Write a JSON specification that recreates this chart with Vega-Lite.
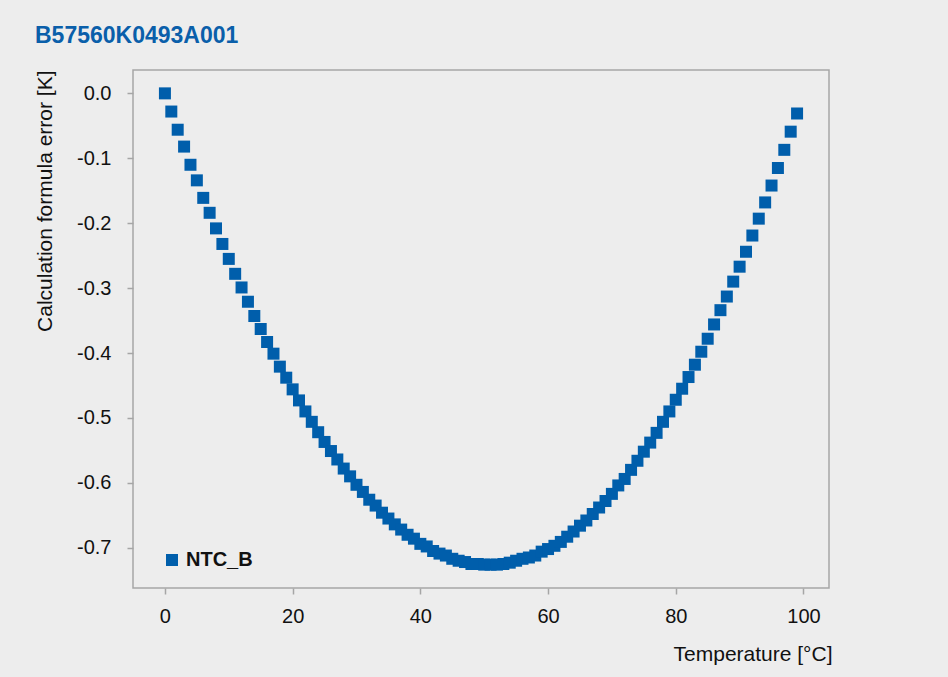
{
  "$schema": "https://vega.github.io/schema/vega-lite/v6.json",
  "autosize": {"type": "none"},
  "width": 696,
  "height": 518,
  "padding": {"left": 133, "top": 70, "right": 119, "bottom": 89},
  "background": "#ededed",
  "title": {
    "text": "B57560K0493A001",
    "anchor": "start",
    "frame": "group",
    "dx": -98,
    "dy": 24,
    "offset": 28,
    "baseline": "alphabetic",
    "font": "Liberation Sans",
    "fontSize": 23,
    "fontWeight": "bold",
    "color": "#0a5faa"
  },
  "config": {
    "view": {"stroke": "#a6a6a6", "strokeWidth": 1.5, "fill": "#ededed"},
    "font": "Liberation Sans"
  },
  "data": {
    "values": [
      {"T": 0, "err": 0.000, "series": "NTC_B"},
      {"T": 1, "err": -0.028, "series": "NTC_B"},
      {"T": 2, "err": -0.056, "series": "NTC_B"},
      {"T": 3, "err": -0.082, "series": "NTC_B"},
      {"T": 4, "err": -0.110, "series": "NTC_B"},
      {"T": 5, "err": -0.134, "series": "NTC_B"},
      {"T": 6, "err": -0.161, "series": "NTC_B"},
      {"T": 7, "err": -0.184, "series": "NTC_B"},
      {"T": 8, "err": -0.208, "series": "NTC_B"},
      {"T": 9, "err": -0.232, "series": "NTC_B"},
      {"T": 10, "err": -0.255, "series": "NTC_B"},
      {"T": 11, "err": -0.278, "series": "NTC_B"},
      {"T": 12, "err": -0.299, "series": "NTC_B"},
      {"T": 13, "err": -0.321, "series": "NTC_B"},
      {"T": 14, "err": -0.343, "series": "NTC_B"},
      {"T": 15, "err": -0.363, "series": "NTC_B"},
      {"T": 16, "err": -0.383, "series": "NTC_B"},
      {"T": 17, "err": -0.401, "series": "NTC_B"},
      {"T": 18, "err": -0.421, "series": "NTC_B"},
      {"T": 19, "err": -0.438, "series": "NTC_B"},
      {"T": 20, "err": -0.456, "series": "NTC_B"},
      {"T": 21, "err": -0.473, "series": "NTC_B"},
      {"T": 22, "err": -0.490, "series": "NTC_B"},
      {"T": 23, "err": -0.506, "series": "NTC_B"},
      {"T": 24, "err": -0.522, "series": "NTC_B"},
      {"T": 25, "err": -0.537, "series": "NTC_B"},
      {"T": 26, "err": -0.551, "series": "NTC_B"},
      {"T": 27, "err": -0.564, "series": "NTC_B"},
      {"T": 28, "err": -0.578, "series": "NTC_B"},
      {"T": 29, "err": -0.590, "series": "NTC_B"},
      {"T": 30, "err": -0.603, "series": "NTC_B"},
      {"T": 31, "err": -0.614, "series": "NTC_B"},
      {"T": 32, "err": -0.626, "series": "NTC_B"},
      {"T": 33, "err": -0.635, "series": "NTC_B"},
      {"T": 34, "err": -0.646, "series": "NTC_B"},
      {"T": 35, "err": -0.655, "series": "NTC_B"},
      {"T": 36, "err": -0.664, "series": "NTC_B"},
      {"T": 37, "err": -0.672, "series": "NTC_B"},
      {"T": 38, "err": -0.680, "series": "NTC_B"},
      {"T": 39, "err": -0.686, "series": "NTC_B"},
      {"T": 40, "err": -0.694, "series": "NTC_B"},
      {"T": 41, "err": -0.698, "series": "NTC_B"},
      {"T": 42, "err": -0.705, "series": "NTC_B"},
      {"T": 43, "err": -0.709, "series": "NTC_B"},
      {"T": 44, "err": -0.712, "series": "NTC_B"},
      {"T": 45, "err": -0.717, "series": "NTC_B"},
      {"T": 46, "err": -0.720, "series": "NTC_B"},
      {"T": 47, "err": -0.722, "series": "NTC_B"},
      {"T": 48, "err": -0.725, "series": "NTC_B"},
      {"T": 49, "err": -0.725, "series": "NTC_B"},
      {"T": 50, "err": -0.726, "series": "NTC_B"},
      {"T": 51, "err": -0.726, "series": "NTC_B"},
      {"T": 52, "err": -0.726, "series": "NTC_B"},
      {"T": 53, "err": -0.725, "series": "NTC_B"},
      {"T": 54, "err": -0.723, "series": "NTC_B"},
      {"T": 55, "err": -0.720, "series": "NTC_B"},
      {"T": 56, "err": -0.717, "series": "NTC_B"},
      {"T": 57, "err": -0.715, "series": "NTC_B"},
      {"T": 58, "err": -0.712, "series": "NTC_B"},
      {"T": 59, "err": -0.706, "series": "NTC_B"},
      {"T": 60, "err": -0.702, "series": "NTC_B"},
      {"T": 61, "err": -0.697, "series": "NTC_B"},
      {"T": 62, "err": -0.691, "series": "NTC_B"},
      {"T": 63, "err": -0.683, "series": "NTC_B"},
      {"T": 64, "err": -0.675, "series": "NTC_B"},
      {"T": 65, "err": -0.666, "series": "NTC_B"},
      {"T": 66, "err": -0.658, "series": "NTC_B"},
      {"T": 67, "err": -0.648, "series": "NTC_B"},
      {"T": 68, "err": -0.638, "series": "NTC_B"},
      {"T": 69, "err": -0.628, "series": "NTC_B"},
      {"T": 70, "err": -0.617, "series": "NTC_B"},
      {"T": 71, "err": -0.604, "series": "NTC_B"},
      {"T": 72, "err": -0.594, "series": "NTC_B"},
      {"T": 73, "err": -0.580, "series": "NTC_B"},
      {"T": 74, "err": -0.566, "series": "NTC_B"},
      {"T": 75, "err": -0.552, "series": "NTC_B"},
      {"T": 76, "err": -0.538, "series": "NTC_B"},
      {"T": 77, "err": -0.523, "series": "NTC_B"},
      {"T": 78, "err": -0.506, "series": "NTC_B"},
      {"T": 79, "err": -0.490, "series": "NTC_B"},
      {"T": 80, "err": -0.472, "series": "NTC_B"},
      {"T": 81, "err": -0.455, "series": "NTC_B"},
      {"T": 82, "err": -0.437, "series": "NTC_B"},
      {"T": 83, "err": -0.418, "series": "NTC_B"},
      {"T": 84, "err": -0.398, "series": "NTC_B"},
      {"T": 85, "err": -0.378, "series": "NTC_B"},
      {"T": 86, "err": -0.356, "series": "NTC_B"},
      {"T": 87, "err": -0.334, "series": "NTC_B"},
      {"T": 88, "err": -0.313, "series": "NTC_B"},
      {"T": 89, "err": -0.290, "series": "NTC_B"},
      {"T": 90, "err": -0.267, "series": "NTC_B"},
      {"T": 91, "err": -0.244, "series": "NTC_B"},
      {"T": 92, "err": -0.219, "series": "NTC_B"},
      {"T": 93, "err": -0.193, "series": "NTC_B"},
      {"T": 94, "err": -0.168, "series": "NTC_B"},
      {"T": 95, "err": -0.142, "series": "NTC_B"},
      {"T": 96, "err": -0.115, "series": "NTC_B"},
      {"T": 97, "err": -0.087, "series": "NTC_B"},
      {"T": 98, "err": -0.059, "series": "NTC_B"},
      {"T": 99, "err": -0.031, "series": "NTC_B"}
    ]
  },
  "mark": {"type": "point", "shape": "square", "filled": true, "size": 144, "opacity": 1},
  "encoding": {
    "x": {
      "field": "T",
      "type": "quantitative",
      "scale": {"domain": [-5, 104], "nice": false, "zero": false},
      "axis": {
        "values": [0, 20, 40, 60, 80, 100],
        "grid": false,
        "domain": false,
        "tickColor": "#a6a6a6",
        "tickWidth": 1.5,
        "tickSize": 6,
        "labelFontSize": 20,
        "labelColor": "#111111",
        "labelPadding": 12,
        "title": "Temperature [°C]",
        "titleFontSize": 21,
        "titleFontWeight": "normal",
        "titleColor": "#111111",
        "titleAlign": "right",
        "titleAnchor": "end",
        "titleBaseline": "alphabetic",
        "titleX": 699,
        "titleY": 72
      }
    },
    "y": {
      "field": "err",
      "type": "quantitative",
      "scale": {"domain": [-0.762, 0.036], "nice": false, "zero": false},
      "axis": {
        "values": [0, -0.1, -0.2, -0.3, -0.4, -0.5, -0.6, -0.7],
        "labelExpr": "replace(format(datum.value, '.1f'), '\u2212', '-')",
        "grid": false,
        "domain": false,
        "tickColor": "#a6a6a6",
        "tickWidth": 1.5,
        "tickSize": 6,
        "labelFontSize": 20,
        "labelColor": "#111111",
        "labelPadding": 16,
        "title": "Calculation formula error [K]",
        "titleFontSize": 21,
        "titleFontWeight": "normal",
        "titleColor": "#111111",
        "titleAngle": -90,
        "titleAlign": "right",
        "titleBaseline": "middle",
        "titleX": -88,
        "titleY": 0
      }
    },
    "color": {
      "field": "series",
      "type": "nominal",
      "scale": {"range": ["#005eab"]},
      "legend": {
        "title": null,
        "orient": "none",
        "legendX": 29,
        "legendY": 480,
        "padding": 0,
        "symbolType": "square",
        "symbolSize": 144,
        "symbolStrokeWidth": 0,
        "symbolOpacity": 1,
        "labelFontSize": 20,
        "labelFontWeight": "bold",
        "labelColor": "#111111",
        "labelOffset": 4
      }
    }
  }
}
